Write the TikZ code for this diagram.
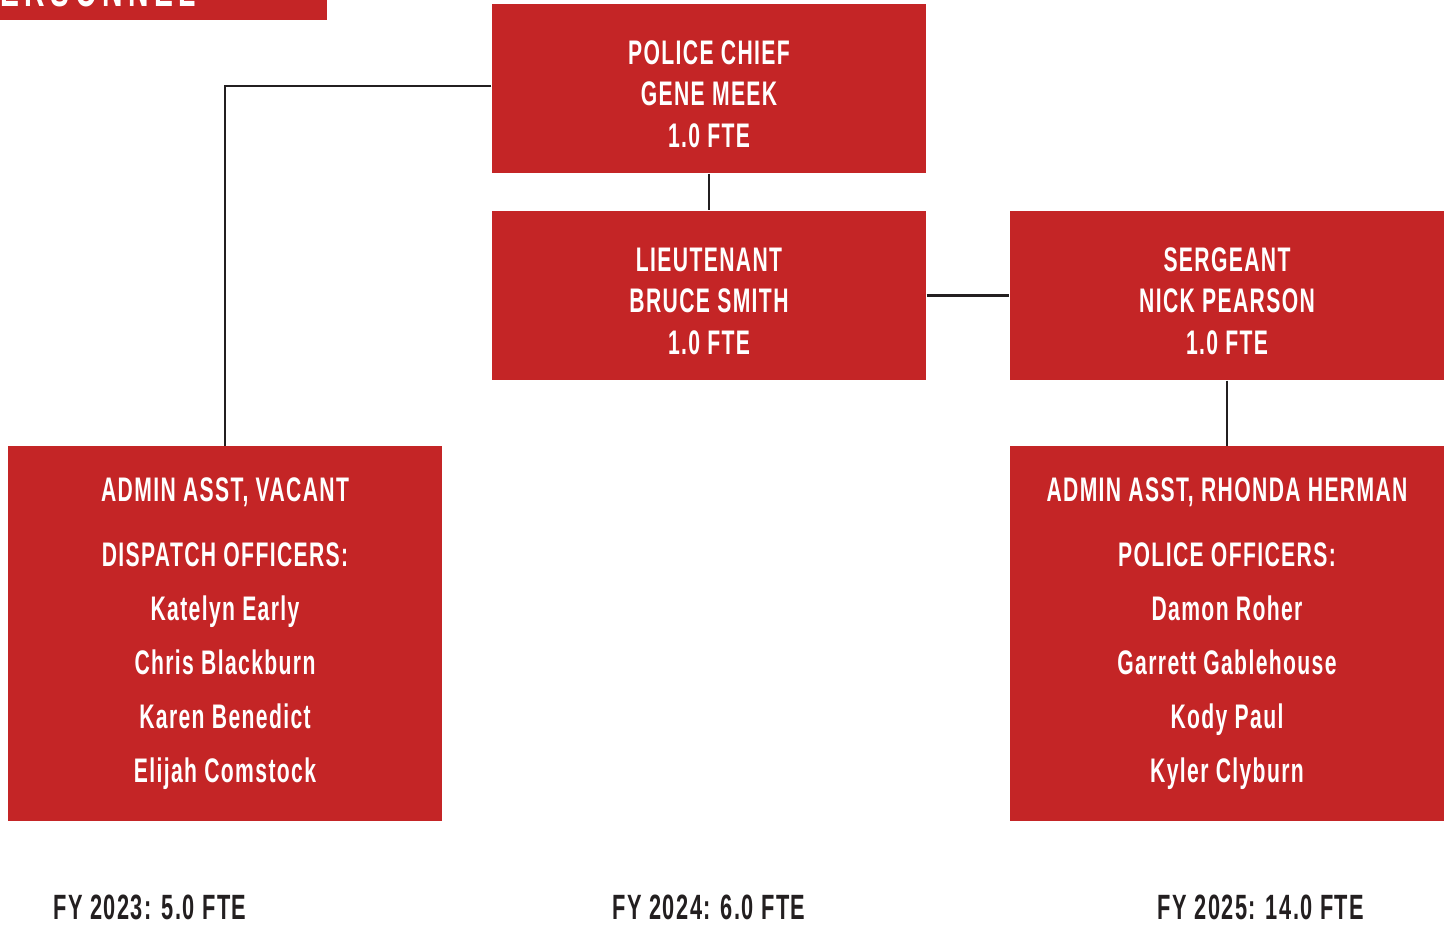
\documentclass[tikz,border=0pt]{standalone}
\usepackage{fontspec}
\usepackage{tikz}
\newfontfamily\orgfont[FakeStretch=0.62,LetterSpace=4]{Liberation Sans}
\definecolor{orgred}{RGB}{196,37,38}
\definecolor{orgline}{RGB}{35,31,32}
\newcommand\firstgap{\rule{0pt}{9.8pt}}
\tikzset{
  orgbox/.style={fill=orgred,text=white,minimum width=43.4mm,minimum height=16.9mm,
    align=center,inner sep=0pt,font=\orgfont\bfseries\fontsize{9.7}{11.8}\selectfont},
  bigbox/.style={orgbox,minimum height=37.5mm,font=\orgfont\bfseries\fontsize{9.7}{15.4}\selectfont},
  fte/.style={text=orgline,inner sep=0pt,anchor=base,font=\orgfont\bfseries\fontsize{10}{12}\selectfont},
  link/.style={draw=orgline,line width=0.7pt}
}
\begin{document}
\begin{tikzpicture}[x=0.1mm,y=-0.1mm]
    \useasboundingbox (0,0) rectangle (1448,930);
    \begin{scope}
    \clip (0,0) rectangle (1448,930);
    \fill[orgred] (0,-40) rectangle (327,20);
    \node[anchor=base east,text=white,inner sep=0pt,font=\orgfont\bfseries\fontsize{13}{14}\selectfont\addfontfeature{LetterSpace=12}] (title) at (197,7) {PERSONNEL};
    \end{scope}
    \node[orgbox] (chief) at (709,88.5) {\firstgap POLICE CHIEF\\GENE MEEK\\1.0 FTE};
    \node[orgbox] (lieut) at (709,295.5) {\firstgap LIEUTENANT\\BRUCE SMITH\\1.0 FTE};
    \node[orgbox] (sarge) at (1227,295.5) {\firstgap SERGEANT\\NICK PEARSON\\1.0 FTE};
    \node[bigbox] (dispatch) at (225,634) {ADMIN ASST, VACANT\\[3pt]DISPATCH OFFICERS:\\Katelyn Early\\Chris Blackburn\\Karen Benedict\\Elijah Comstock};
    \node[bigbox] (patrol) at (1227,634) {ADMIN ASST, RHONDA HERMAN\\[3pt]POLICE OFFICERS:\\Damon Roher\\Garrett Gablehouse\\Kody Paul\\Kyler Clyburn};
    \draw[link] ([yshift=0.7pt]chief.west) -| (dispatch.north);
    \draw[link] (chief.south) -- (lieut.north);
    \draw[link] (lieut.east) -- (sarge.west);
    \draw[link] (sarge.south) -- (patrol.north);
    \node[fte] (fy23) at (150,920) {FY 2023: 5.0 FTE};
    \node[fte] (fy24) at (709,920) {FY 2024: 6.0 FTE};
    \node[fte] (fy25) at (1261,920) {FY 2025: 14.0 FTE};
\end{tikzpicture}
\end{document}
